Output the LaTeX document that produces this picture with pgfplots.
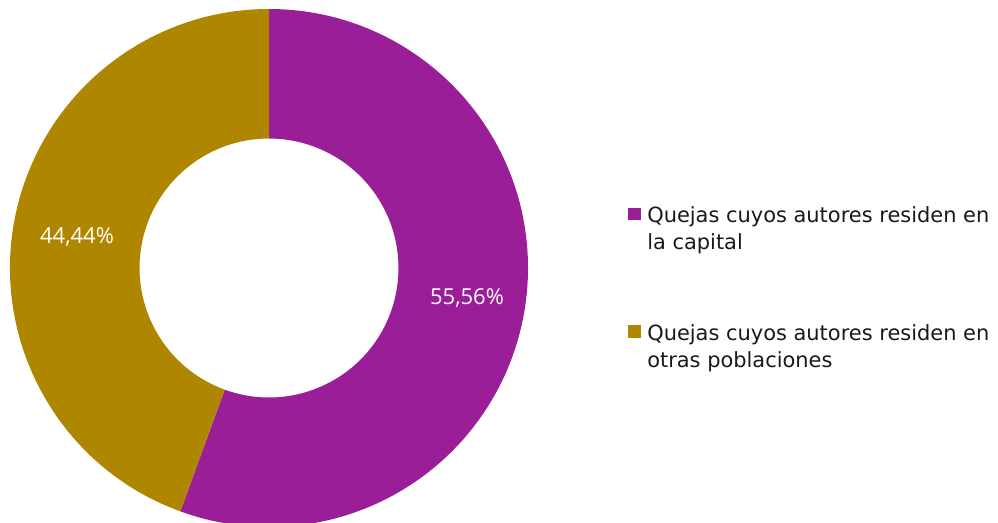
\documentclass[border=0pt]{standalone}
\usepackage{pgfplots}
\usepackage{pgfplotstable}
\usepackage{fontspec}
\pgfplotsset{compat=1.18}
\newfontfamily\legfont{DejaVu Sans}
\newfontfamily\lblfont{Open Sans}
\definecolor{capital}{HTML}{9A1E98}
\definecolor{otras}{HTML}{AE8600}

% share of complaints, percent
\pgfplotstableread{
grupo   valor
capital 55.56
otras   44.44
}\quejas

\begin{document}
\begin{tikzpicture}
\pgfplotstablegetelem{0}{valor}\of\quejas \let\va\pgfplotsretval
\pgfplotstablegetelem{1}{valor}\of\quejas \let\vb\pgfplotsretval
\pgfmathsetmacro\aend{90-3.6*\va}
\def\Rout{194.25pt}
\def\Rin{97.1pt}
\pgfkeys{/pgf/number format/.cd, fixed, fixed zerofill, precision=2, use comma, assume math mode=true}
\begin{axis}[
    hide axis,
    x=0.75pt, y=0.75pt,
    xmin=0, xmax=998, ymin=0, ymax=522,
    clip=false,
    ]
    \path (axis cs:0,0) rectangle (axis cs:998,522);
    \begin{scope}
    \clip (axis cs:0,0) rectangle (axis cs:998,522);
    \begin{scope}[shift={(axis cs:269,254)}]
    \fill[capital] (90:\Rout) arc[start angle=90, end angle=\aend, radius=\Rout]
        -- (\aend:\Rin) arc[start angle=\aend, end angle=90, radius=\Rin] -- cycle;
    \fill[otras] (\aend:\Rout) arc[start angle=\aend, end angle=-270, radius=\Rout]
        -- (90:\Rin) arc[start angle=90, end angle=\aend+360, radius=\Rin] -- cycle;
    \end{scope}
    \end{scope}
    % value labels
    \node[text=white, font=\lblfont\fontsize{16.5}{20}\selectfont]
        at (axis cs:467,224) {\pgfmathprintnumber{\va}\%};
    \node[text=white, font=\lblfont\fontsize{16.5}{20}\selectfont]
        at (axis cs:77,285) {\pgfmathprintnumber{\vb}\%};
    % legend
    \fill[capital] (axis cs:628,302) rectangle (axis cs:641,314);
    \fill[otras] (axis cs:628,184) rectangle (axis cs:641,197);
    \begin{scope}[every node/.style={anchor=base west, inner sep=0pt, text=black!90,
        font=\legfont\fontsize{15.7}{20}\selectfont}]
    \node at (axis cs:647,300) {Quejas cuyos autores residen en};
    \node at (axis cs:647,273) {la capital};
    \node at (axis cs:647,182) {Quejas cuyos autores residen en};
    \node at (axis cs:647,155) {otras poblaciones};
    \end{scope}
\end{axis}
\end{tikzpicture}
\end{document}
